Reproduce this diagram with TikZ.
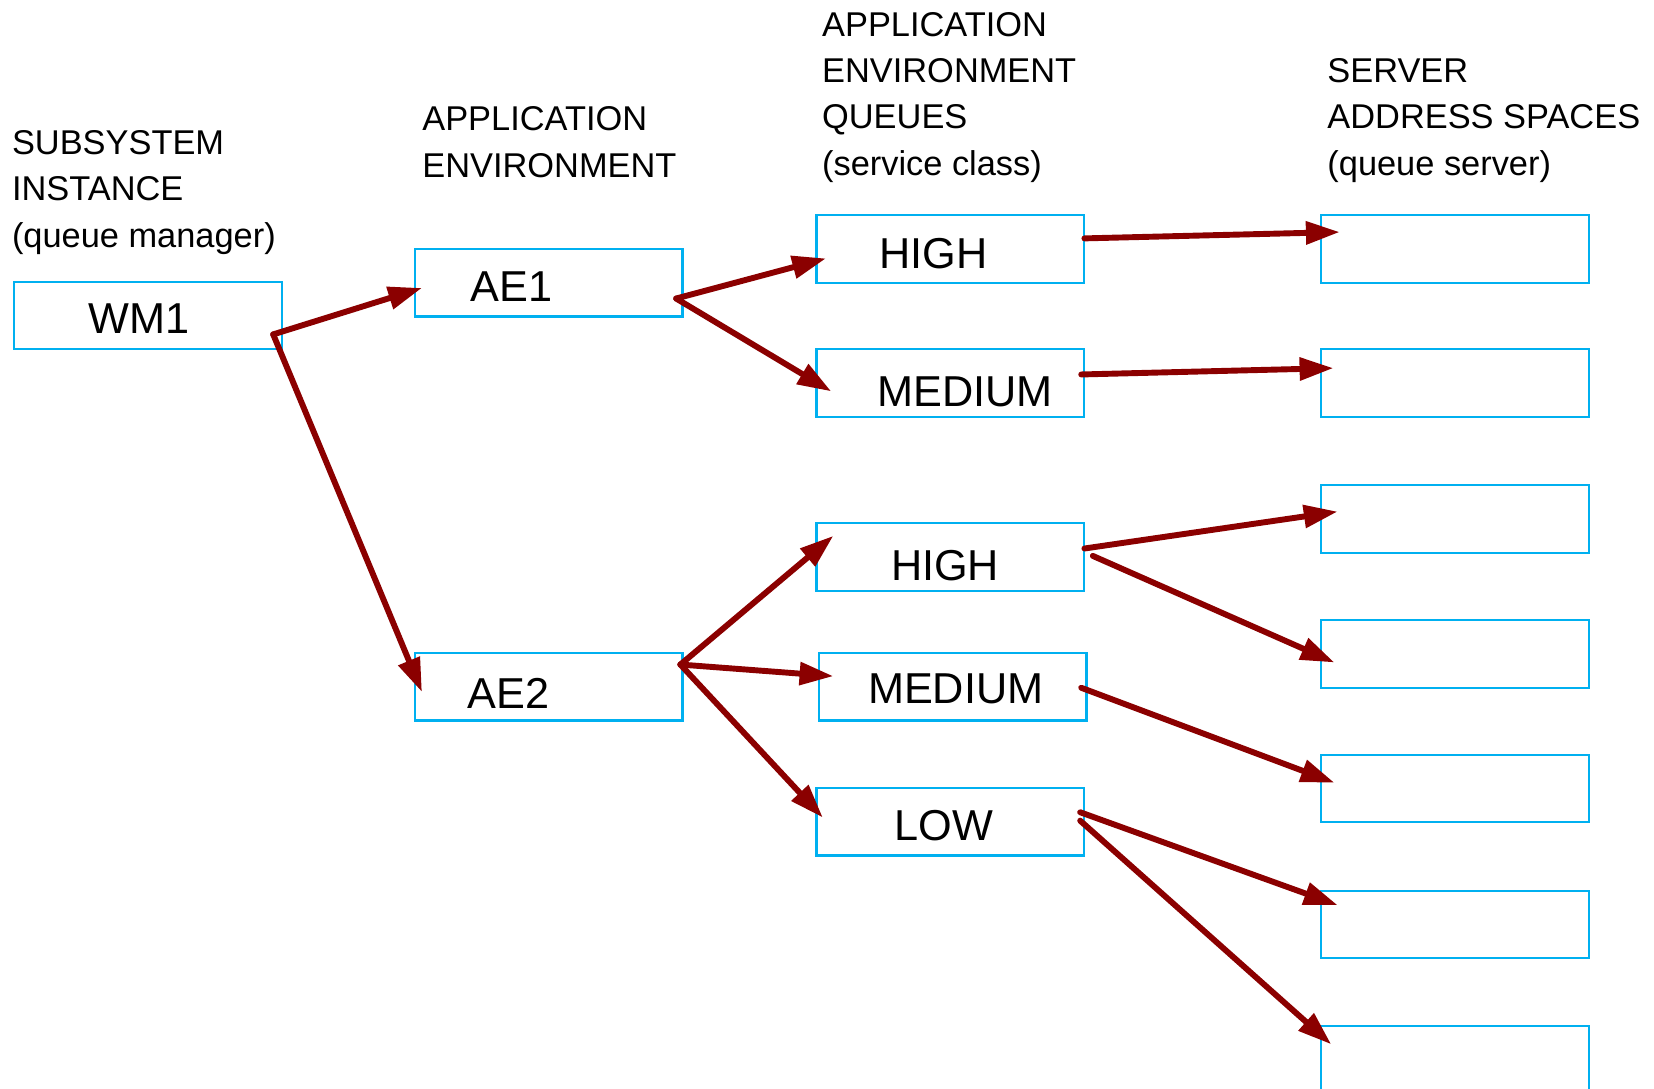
\documentclass[tikz,border=0pt]{standalone}
\usepackage{fontspec}
\setmainfont{Liberation Sans}
\usetikzlibrary{arrows.meta,calc}
\definecolor{boxblue}{HTML}{00B0F0}
\definecolor{flowred}{HTML}{8B0000}

\begin{document}
\begin{tikzpicture}[x=0.5pt,y=-0.5pt,
  box/.style={draw=boxblue, line width=1pt, minimum width=127pt, minimum height=32pt, inner sep=0pt, outer sep=0pt},
  lbl/.style={font=\fontsize{20.5}{24}\selectfont, inner sep=0pt},
  head/.style={font=\fontsize{16.3}{22}\selectfont, align=left, anchor=north west, inner sep=0pt},
  flow/.style={draw=flowred, line width=2.8pt, line cap=round,
    -{Triangle[length=16pt,width=10.5pt]}}]

% page frame
\clip (0,0) rectangle (1568,1032);

% column headings
\node[head] (h1) at (11,123) {SUBSYSTEM\\INSTANCE\\(queue manager)};
\node[head] (h2) at (400,101) {APPLICATION\\ENVIRONMENT};
\node[head] (h3) at (779,11) {APPLICATION\\ENVIRONMENT\\QUEUES\\(service class)};
\node[head] (h4) at (1258,55) {SERVER\\ADDRESS SPACES\\(queue server)};

% queue manager and application environments
\node[box] (wm1) at (140,299) {};
\node[box] (ae1) at (520,268) {};
\node[box] (ae2) at (520,651) {};

% service class queues
\node[box] (q1h) at (901,236) {};
\node[box] (q1m) at (901,363) {};
\node[box] (q2h) at (901,528) {};
\node[box] (q2m) at (903,651) {};
\node[box] (q2l) at (901,779) {};

% server address spaces
\node[box] (s1) at (1379,236) {};
\node[box] (s2) at (1379,363) {};
\node[box] (s3) at (1379,492) {};
\node[box] (s4) at (1379,620) {};
\node[box] (s5) at (1379,747.5) {};
\node[box] (s6) at (1379,876.5) {};
\node[box] (s7) at (1379,1005) {};

% box labels
\node[lbl] (twm1) at (132,302) {WM1};
\node[lbl] (tae1) at (485,272) {AE1};
\node[lbl] (tae2) at (482,657) {AE2};
\node[lbl] (tq1h) at (885,240) {HIGH};
\node[lbl] (tq1m) at (915,371) {MEDIUM};
\node[lbl] (tq2h) at (896,536) {HIGH};
\node[lbl] (tq2m) at (906,653) {MEDIUM};
\node[lbl] (tq2l) at (895,783) {LOW};

% flows
\draw[flow] ($(wm1.east)+(-8,18)$) -- ($(ae1.west)+(7,5)$);
\draw[flow] ($(wm1.east)+(-8,18)$) -- ($(ae2.west)+(7,5)$);

\draw[flow] ($(ae1.east)+(-6,15)$) -- ($(q1h.west)+(9,9)$);
\draw[flow] ($(ae1.east)+(-6,15)$) -- ($(q1m.west)+(14,8)$);

\draw[flow] ($(ae2.east)+(-2,-21)$) -- ($(q2h.west)+(16,-20)$);
\draw[flow] ($(ae2.east)+(-2,-21)$) -- ($(q2m.west)+(14,-10)$);
\draw[flow] ($(ae2.east)+(-2,-21)$) -- ($(q2l.west)+(6,-4)$);

\draw[flow] ($(q1h.east)+(0,-10)$) -- ($(s1.west)+(18,-16)$);
\draw[flow] ($(q1m.east)+(-3,-8)$) -- ($(s2.west)+(12,-14)$);
\draw[flow] ($(q2h.east)+(0,-8)$) -- ($(s3.west)+(16,-7)$);
\draw[flow] ($(q2h.east)+(8,-1)$) -- ($(s4.west)+(13,8)$);
\draw[flow] ($(q2m.east)+(-5,1)$) -- ($(s5.west)+(13,-5.5)$);
\draw[flow] ($(q2l.east)+(-4,-9)$) -- ($(s6.west)+(16,-18.5)$);
\draw[flow] ($(q2l.east)+(-4,-1)$) -- ($(s7.west)+(10,-15)$);
\end{tikzpicture}
\end{document}
